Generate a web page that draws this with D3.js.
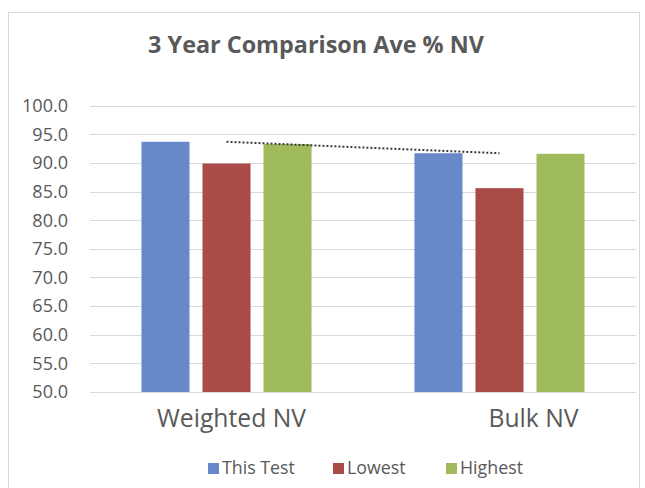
<!DOCTYPE html>
<html>
<head>
<meta charset="utf-8">
<script src="https://cdn.jsdelivr.net/npm/d3@7"></script>
<style>
  body { margin: 0; background: #fff; }
  text { font-family: "Open Sans", Lato, sans-serif; fill: #595959; }
</style>
</head>
<body>
<figure id="graph" style="margin:0"></figure>
<script>
// data
const categories = ['Weighted NV', 'Bulk NV'];
const seriesNames = ['This Test', 'Lowest', 'Highest'];
const thisTest = [93.7, 91.7];
const lowest = [89.9, 85.6];
const highest = [93.3, 91.6];
const yTicks = [50, 55, 60, 65, 70, 75, 80, 85, 90, 95, 100];
const titleText = '3 Year Comparison Ave % NV';

const colors = { 'This Test': '#6789c9', 'Lowest': '#aa4b48', 'Highest': '#9fbb5c' };
const width = 645, height = 488;

const svg = d3.select('figure#graph')
  .append('svg')
  .attr('width', width)
  .attr('height', height);

svg.append('rect')
  .attr('width', width).attr('height', height)
  .attr('fill', '#fff');

// sets one font size for a group so its first text is targetW wide
function fitWidth(sel, targetW) {
  const node = sel.node();
  const base = parseFloat(sel.attr('font-size'));
  const w = node.getComputedTextLength();
  if (w > 0) sel.attr('font-size', (base * targetW / w).toFixed(2));
}

// chart frame
svg.append('rect')
  .attr('x', 8.5).attr('y', 12.5)
  .attr('width', 631).attr('height', 490)
  .attr('fill', 'none')
  .attr('stroke', '#d9d9d9');

const title = svg.append('text')
  .attr('x', 316).attr('y', 53)
  .attr('text-anchor', 'middle')
  .attr('font-size', 20)
  .attr('font-weight', 'bold')
  .text(titleText);
fitWidth(title, 336);

// scales
const yScale = d3.scaleLinear().domain([50, 100]).range([392, 105.7]);
const x0 = d3.scaleBand().domain(categories).range([90, 636])
  .paddingInner(0.377).paddingOuter(0.1886);
const x1 = d3.scaleBand().domain(seriesNames).range([0, x0.bandwidth()])
  .paddingInner(0.213);

// gridlines
svg.append('g')
  .selectAll('line')
  .data(yTicks)
  .join('line')
  .attr('x1', 90).attr('x2', 636)
  .attr('y1', d => Math.round(yScale(d)) + 0.5)
  .attr('y2', d => Math.round(yScale(d)) + 0.5)
  .attr('stroke', '#d9d9d9');

// y axis labels
const yAxis = svg.append('g')
  .attr('transform', 'translate(90, 0)')
  .call(d3.axisLeft(yScale).tickValues(yTicks).tickFormat(d3.format('.1f')).tickSize(0).tickPadding(22));
yAxis.select('.domain').remove();
const yLabels = yAxis.selectAll('text').attr('font-family', null).attr('fill', null).attr('font-size', 15);
const topLabel = yLabels.filter(d => d === 100);
fitWidth(topLabel, 46);
yLabels.attr('font-size', topLabel.attr('font-size'));

// bars
const rows = categories.map((c, i) => ({
  cat: c,
  vals: [thisTest[i], lowest[i], highest[i]].map((v, j) => ({ name: seriesNames[j], value: v }))
}));

svg.append('g')
  .selectAll('g')
  .data(rows)
  .join('g')
  .attr('transform', d => `translate(${x0(d.cat)}, 0)`)
  .selectAll('rect')
  .data(d => d.vals)
  .join('rect')
  .attr('x', d => x1(d.name))
  .attr('width', x1.bandwidth())
  .attr('y', d => yScale(d.value))
  .attr('height', d => yScale(50) - yScale(d.value))
  .attr('fill', d => colors[d.name]);

// linear trendline on "This Test"
const n = thisTest.length;
const xs = d3.range(1, n + 1);
const mx = d3.mean(xs), my = d3.mean(thisTest);
const slope = d3.sum(xs, (x, i) => (x - mx) * (thisTest[i] - my)) / d3.sum(xs, x => (x - mx) ** 2);
const icpt = my - slope * mx;
const trend = categories.map((c, i) => [x0(c) + x0.bandwidth() / 2, icpt + slope * xs[i]]);

svg.append('path')
  .datum(trend)
  .attr('fill', 'none')
  .attr('stroke', '#3a3a3a')
  .attr('stroke-width', 2)
  .attr('stroke-dasharray', '2,2')
  .attr('d', d3.line().x(d => d[0]).y(d => yScale(d[1])));

// category labels
const labelShift = { 'Weighted NV': 5, 'Bulk NV': 34 };
const catLabels = svg.append('g')
  .selectAll('text')
  .data(categories)
  .join('text')
  .attr('x', d => x0(d) + x0.bandwidth() / 2 + labelShift[d])
  .attr('y', 427)
  .attr('text-anchor', 'middle')
  .attr('font-size', 20)
  .text(d => d);
fitWidth(catLabels.filter((d, i) => i === 0), 149);
catLabels.attr('font-size', catLabels.filter((d, i) => i === 0).attr('font-size'));

// legend
const legendX = [208, 333, 446];
const legend = svg.append('g')
  .selectAll('g')
  .data(seriesNames)
  .join('g')
  .attr('transform', (d, i) => `translate(${legendX[i]}, 468)`);
legend.append('rect')
  .attr('x', 0).attr('y', -5)
  .attr('width', 11).attr('height', 11)
  .attr('fill', d => colors[d]);
const legText = legend.append('text')
  .attr('x', 14).attr('y', 5.5)
  .attr('font-size', 15)
  .text(d => d);
fitWidth(legText.filter((d, i) => i === 0), 73);
legText.attr('font-size', legText.filter((d, i) => i === 0).attr('font-size'));
</script>
</body>
</html>
